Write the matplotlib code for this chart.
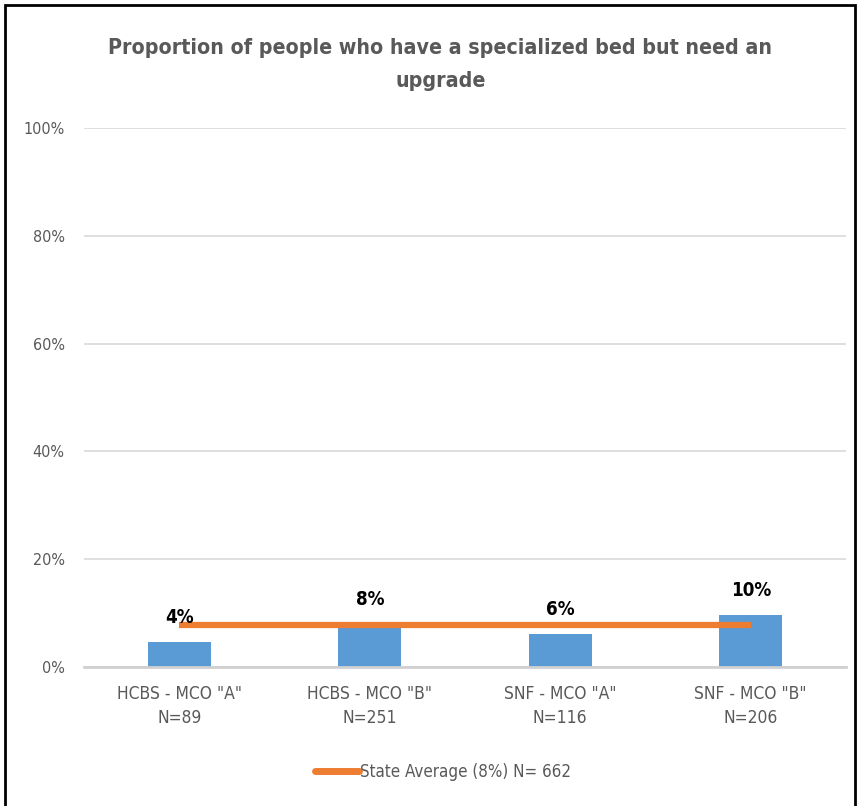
import matplotlib.pyplot as plt
from matplotlib.patches import Rectangle

plt.rcParams['font.family'] = ['DejaVu Sans']
plt.rcParams['font.stretch'] = 'condensed'

# data
groups = ['HCBS - MCO "A"', 'HCBS - MCO "B"', 'SNF - MCO "A"', 'SNF - MCO "B"']
counts = [89, 251, 116, 206]
shares = [0.046, 0.078, 0.061, 0.096]
labels = ['4%', '8%', '6%', '10%']
state_avg = 0.078
state_label = 'State Average (8%) N= 662'

grey = '#595959'
blue = '#5B9BD5'
orange = '#ED7D31'

fig = plt.figure(figsize=(8.6, 8.06), dpi=100)
ax = fig.add_axes([0.0977, 0.1725, 0.886, 0.6687])

x = list(range(len(groups)))
ax.bar(x, shares, width=0.33, color=blue, zorder=2)
ax.plot(x, [state_avg] * len(x), color=orange, lw=4.5, solid_capstyle='butt',
        zorder=3, label=state_label)

for i, (v, t) in enumerate(zip(shares, labels)):
    box = None
    if i == 2:
        box = dict(facecolor='white', edgecolor='none', pad=1.5)
    ax.annotate(t, (i, v), xytext=(0, 18), textcoords='offset points',
                ha='center', va='center', fontsize=13.5, fontweight='bold',
                color='black', bbox=box, zorder=4)

ax.set_xlim(-0.5, 3.5)
ax.set_ylim(0, 1)
ax.set_yticks([0, 0.2, 0.4, 0.6, 0.8, 1.0])
ax.set_yticklabels(['0%', '20%', '40%', '60%', '80%', '100%'])
ax.set_xticks(x)
ax.set_xticklabels([f'{g}\nN={n}' for g, n in zip(groups, counts)],
                   linespacing=1.4)
ax.tick_params(axis='both', length=0, colors=grey)
ax.tick_params(axis='x', pad=13, labelsize=12.5)
ax.tick_params(axis='y', pad=14, labelsize=11.5)
ax.grid(axis='y', color='#D9D9D9', lw=1.2, zorder=0)
for s in ['top', 'right', 'left']:
    ax.spines[s].set_visible(False)
ax.spines['bottom'].set_color('#D0D0D0')
ax.spines['bottom'].set_linewidth(2)

fig.text(0.512, 0.92, 'Proportion of people who have a specialized bed but need an\nupgrade',
         ha='center', va='center', fontsize=15.3, fontweight='bold', color=grey,
         linespacing=1.8)

leg = ax.legend(loc='center', bbox_to_anchor=(0.515, 0.042), bbox_transform=fig.transFigure,
                frameon=False, fontsize=12.2, labelcolor=grey, handlelength=2.6,
                handletextpad=0.1)
for h in leg.get_lines():
    h.set_solid_capstyle('round')
    h.set_linewidth(5)

fig.patches.append(Rectangle((5 / 860, -0.1), 850 / 860, 1.1 - 5 / 806,
                             transform=fig.transFigure, fill=False,
                             edgecolor='black', lw=2))

fig.savefig('out.png', dpi=100)
